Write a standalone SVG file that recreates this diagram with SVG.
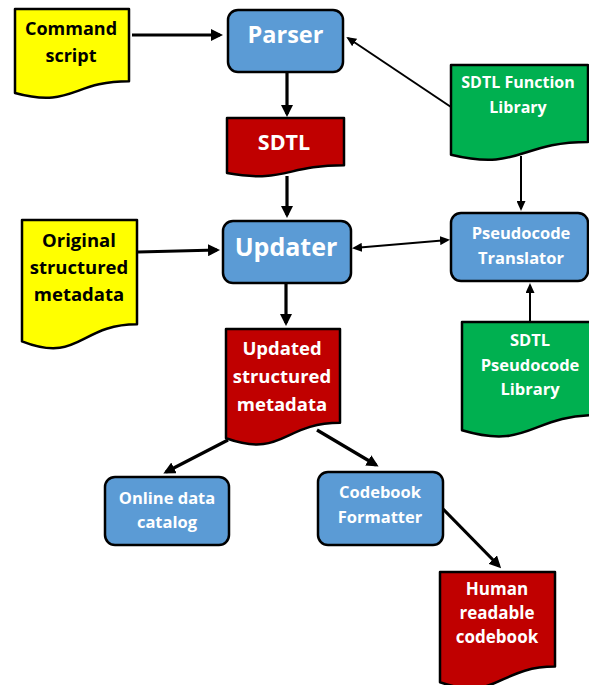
<svg xmlns="http://www.w3.org/2000/svg" width="589" height="685" viewBox="0 0 589 685">
<defs>
<style>
.doc{stroke:#000;stroke-width:2.5;stroke-linejoin:round}
.box{fill:#5B9BD5;stroke:#000;stroke-width:2.5}
.y{fill:#FFFF00}.r{fill:#C00000}.g{fill:#00B050}
text{font-family:"Open Sans","Liberation Sans",sans-serif;font-weight:700;text-anchor:middle}
.k{fill:#000}.w{fill:#fff}
.thick{stroke:#000;stroke-width:3.2;fill:none}
.thin{stroke:#000;stroke-width:2;fill:none}
</style>
<marker id="ah" markerUnits="userSpaceOnUse" markerWidth="12" markerHeight="12" viewBox="0 0 12 12" refX="9" refY="6" orient="auto"><path d="M0,0 L12,6 L0,12 z" fill="#000"/></marker>
<marker id="as" markerUnits="userSpaceOnUse" markerWidth="10" markerHeight="9" viewBox="0 0 10 9" refX="8" refY="4.5" orient="auto"><path d="M0,0 L10,4.5 L0,9 z" fill="#000"/></marker>
<marker id="asr" markerUnits="userSpaceOnUse" markerWidth="10" markerHeight="9" viewBox="0 0 10 9" refX="2" refY="4.5" orient="auto"><path d="M10,0 L0,4.5 L10,9 z" fill="#000"/></marker>
</defs>
<g id="connectors">
<line class="thick" x1="132" y1="35" x2="220" y2="35" marker-end="url(#ah)"/>
<line class="thick" x1="287" y1="73" x2="287" y2="114" marker-end="url(#ah)"/>
<line class="thick" x1="287" y1="176" x2="287" y2="215" marker-end="url(#ah)"/>
<line class="thick" x1="138" y1="252" x2="217" y2="250" marker-end="url(#ah)"/>
<line class="thick" x1="286" y1="284" x2="286" y2="323" marker-end="url(#ah)"/>
<line class="thin" x1="451" y1="107" x2="348" y2="38" marker-end="url(#as)"/>
<line class="thin" x1="521" y1="156" x2="521" y2="209" marker-end="url(#as)"/>
<line class="thin" x1="354" y1="248" x2="448" y2="240" marker-start="url(#asr)" marker-end="url(#as)"/>
<line class="thin" x1="530" y1="322" x2="530" y2="285" marker-end="url(#as)"/>
<line class="thick" x1="228" y1="440" x2="166" y2="472" marker-end="url(#ah)"/>
<line class="thick" x1="317" y1="430" x2="376" y2="465" marker-end="url(#ah)"/>
<line class="thick" x1="442" y1="508" x2="499" y2="566" marker-end="url(#ah)"/>
</g>
<g id="command-script">
<path class="doc y" d="M15,9 H129 V81.2 C72,81.2 72,108.6 15,93 Z"/>
<text class="k" x="71" y="35" font-size="18">Command</text>
<text class="k" x="71" y="62" font-size="18">script</text>
</g>
<g id="parser">
<rect class="box" x="228" y="10" width="115" height="62" rx="10"/>
<text class="w" x="285.5" y="43" font-size="23.5">Parser</text>
</g>
<g id="sdtl">
<path class="doc r" d="M227,118 H344 V165.3 C285.5,165.3 285.5,183.3 227,173.1 Z"/>
<text class="w" x="284" y="150" font-size="21.5">SDTL</text>
</g>
<g id="sdtl-function-library">
<path class="doc g" d="M451,65 H588 V142 C519.5,142 519.5,171.3 451,154.7 Z"/>
<text class="w" x="518" y="88" font-size="16">SDTL Function</text>
<text class="w" x="518" y="113" font-size="16">Library</text>
</g>
<g id="original-metadata">
<path class="doc y" d="M22,220 H137 V324.3 C79.5,324.3 79.5,363.9 22,341.4 Z"/>
<text class="k" x="79" y="247" font-size="18.5">Original</text>
<text class="k" x="79" y="274" font-size="18.5">structured</text>
<text class="k" x="79" y="301" font-size="18.5">metadata</text>
</g>
<g id="updater">
<rect class="box" x="223" y="221" width="128" height="62" rx="10"/>
<text class="w" x="286" y="256" font-size="25">Updater</text>
</g>
<g id="pseudocode-translator">
<rect class="box" x="451" y="213" width="137" height="68" rx="10"/>
<text class="w" x="521" y="239" font-size="16.5">Pseudocode</text>
<text class="w" x="521" y="264" font-size="16.5">Translator</text>
</g>
<g id="sdtl-pseudocode-library">
<path class="doc g" d="M462,322 H598 V415 C530,415 530,450.4 462,430.3 Z"/>
<text class="w" x="530" y="346" font-size="16.5">SDTL</text>
<text class="w" x="530" y="371" font-size="16.5">Pseudocode</text>
<text class="w" x="530" y="395" font-size="16.5">Library</text>
</g>
<g id="updated-metadata">
<path class="doc r" d="M226,329 H340 V422.8 C283,422.8 283,458.5 226,438.3 Z"/>
<text class="w" x="282" y="355" font-size="18.5">Updated</text>
<text class="w" x="282" y="383" font-size="18.5">structured</text>
<text class="w" x="282" y="411" font-size="18.5">metadata</text>
</g>
<g id="online-data-catalog">
<rect class="box" x="105" y="477" width="124" height="68" rx="10"/>
<text class="w" x="167" y="504" font-size="16.5">Online data</text>
<text class="w" x="167" y="528" font-size="16.5">catalog</text>
</g>
<g id="codebook-formatter">
<rect class="box" x="318" y="472" width="125" height="73" rx="10"/>
<text class="w" x="380" y="498" font-size="16.5">Codebook</text>
<text class="w" x="380" y="523" font-size="16.5">Formatter</text>
</g>
<g id="human-readable-codebook">
<path class="doc r" d="M440,572 H555 V666.6 C497.5,666.6 497.5,702.6 440,682.2 Z"/>
<text class="w" x="497" y="595" font-size="17">Human</text>
<text class="w" x="497" y="619" font-size="17">readable</text>
<text class="w" x="497" y="643" font-size="17">codebook</text>
</g>
</svg>
